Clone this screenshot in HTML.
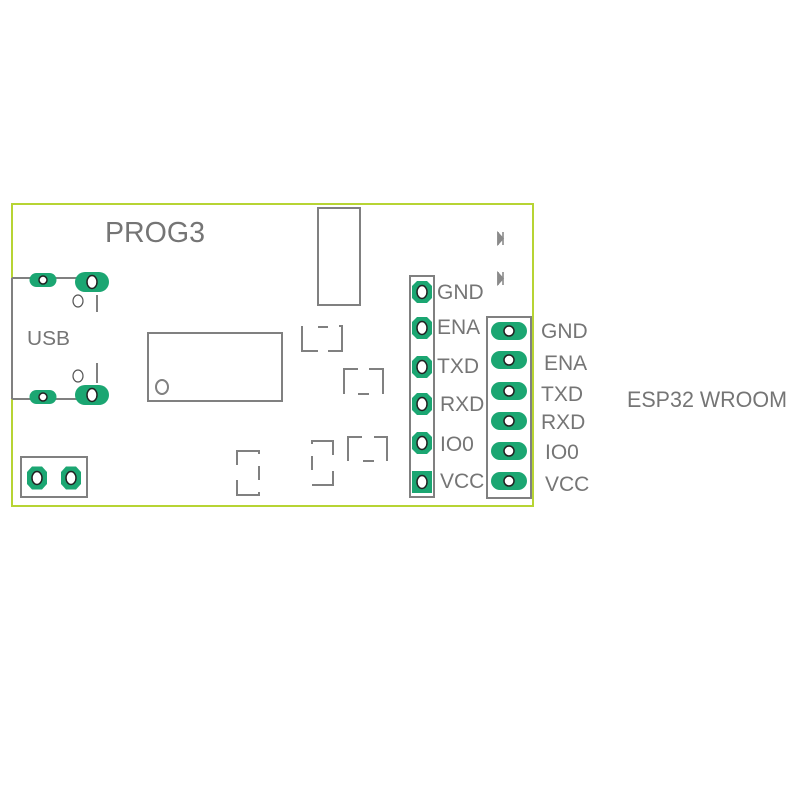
<!DOCTYPE html>
<html>
<head>
<meta charset="utf-8">
<style>
html,body{margin:0;padding:0;background:#fff;}
svg{display:block;}
text{font-family:"Liberation Sans",Arial,sans-serif;fill:#757575;}
</style>
</head>
<body>
<svg width="794" height="794" viewBox="0 0 794 794" xmlns="http://www.w3.org/2000/svg">
<rect x="0" y="0" width="794" height="794" fill="#fff"/>
<!-- board outline -->
<rect x="12" y="204" width="521" height="302" fill="none" stroke="#b7d434" stroke-width="2"/>

<g fill="none" stroke="#808080" stroke-width="2">
  <!-- USB outline -->
  <line x1="12" y1="278" x2="100" y2="278"/>
  <line x1="12" y1="399" x2="100" y2="399"/>
  <line x1="12" y1="278" x2="12" y2="399"/>
  <line x1="97" y1="295" x2="97" y2="312"/>
  <line x1="97" y1="363" x2="97" y2="383"/>
  <!-- bottom-left connector -->
  <rect x="21" y="457" width="66" height="40"/>
  <!-- IC -->
  <rect x="148" y="333" width="134" height="68"/>
  <!-- tall rect -->
  <rect x="318" y="208" width="42" height="97"/>
  <!-- left header -->
  <rect x="410" y="276" width="24" height="221"/>
  <!-- right header -->
  <rect x="487" y="317" width="44" height="181"/>

  <!-- shape 1 -->
  <polyline points="302,326 302,351 318,351"/>
  <line x1="318" y1="327" x2="328" y2="327"/>
  <polyline points="339,326 342,326 342,351 328,351"/>
  <!-- shape 2 -->
  <polyline points="358,369 344,369 344,394"/>
  <line x1="358" y1="394" x2="369" y2="394"/>
  <polyline points="369,369 383,369 383,394"/>
  <!-- shape 3 -->
  <polyline points="362,437 348,437 348,461"/>
  <line x1="363" y1="461" x2="374" y2="461"/>
  <polyline points="374,437 387,437 387,461"/>
  <!-- shape 4 -->
  <polyline points="312,444 312,441 333,441 333,455"/>
  <line x1="312" y1="456" x2="312" y2="470"/>
  <polyline points="333,471 333,485 312,485"/>
  <!-- shape 5 -->
  <polyline points="237,465 237,451 259,451 259,454"/>
  <line x1="259" y1="466" x2="259" y2="480"/>
  <polyline points="237,480 237,495 259,495 259,492"/>
</g>

<!-- IC dot -->
<ellipse cx="162" cy="387" rx="6" ry="7" fill="none" stroke="#808080" stroke-width="2"/>
<!-- USB small circles -->
<ellipse cx="78" cy="301" rx="5" ry="6" fill="none" stroke="#555" stroke-width="1.2"/>
<ellipse cx="78" cy="376" rx="5" ry="6" fill="none" stroke="#555" stroke-width="1.2"/>

<!-- diodes -->
<g fill="none" stroke="#8a8a8a" stroke-width="1.6">
  <line x1="498" y1="232" x2="498" y2="245"/>
  <polygon points="498,233 503,238.5 498,244" fill="#8a8a8a"/>
  <line x1="503" y1="232" x2="503" y2="245"/>
  <line x1="498" y1="272" x2="498" y2="285"/>
  <polygon points="498,273 503,278.5 498,284" fill="#8a8a8a"/>
  <line x1="503" y1="272" x2="503" y2="285"/>
</g>

<!-- USB pads -->
<g fill="#1ba672">
  <rect x="29.5" y="273" width="27" height="14" rx="7"/>
  <rect x="75" y="272" width="34" height="20" rx="10"/>
  <rect x="29.5" y="390" width="27" height="14" rx="7"/>
  <rect x="75" y="385" width="34" height="20" rx="10"/>
</g>
<g fill="#fff" stroke="#222" stroke-width="1.5">
  <circle cx="43" cy="280" r="4"/>
  <ellipse cx="92" cy="282" rx="5" ry="6.5"/>
  <circle cx="43" cy="397" r="4"/>
  <ellipse cx="92" cy="395" rx="5" ry="6.5"/>
</g>

<!-- bottom-left connector pads -->
<g fill="#1ba672">
  <polygon points="32,466.5 42,466.5 47,472 47,484 42,489.5 32,489.5 27,484 27,472"/>
  <polygon points="66,466.5 76,466.5 81,472 81,484 76,489.5 66,489.5 61,484 61,472"/>
</g>
<g fill="#fff" stroke="#222" stroke-width="1.5">
  <ellipse cx="37" cy="478" rx="5" ry="6.5"/>
  <ellipse cx="71" cy="478" rx="5" ry="6.5"/>
</g>

<!-- left header pads -->
<g fill="#1ba672">
  <polygon points="417,281 427,281 432,286 432,298 427,303 417,303 412,298 412,286"/>
  <polygon points="417,317 427,317 432,322 432,334 427,339 417,339 412,334 412,322"/>
  <polygon points="417,356 427,356 432,361 432,373 427,378 417,378 412,373 412,361"/>
  <polygon points="417,393 427,393 432,398 432,410 427,415 417,415 412,410 412,398"/>
  <polygon points="417,432 427,432 432,437 432,449 427,454 417,454 412,449 412,437"/>
  <rect x="412" y="471" width="20" height="22"/>
</g>
<g fill="#fff" stroke="#222" stroke-width="1.5">
  <ellipse cx="422" cy="292" rx="5" ry="6.5"/>
  <ellipse cx="422" cy="328" rx="5" ry="6.5"/>
  <ellipse cx="422" cy="367" rx="5" ry="6.5"/>
  <ellipse cx="422" cy="404" rx="5" ry="6.5"/>
  <ellipse cx="422" cy="443" rx="5" ry="6.5"/>
  <ellipse cx="422" cy="482" rx="5" ry="6.5"/>
</g>

<!-- right header pads -->
<g fill="#1ba672">
  <rect x="491" y="322" width="36" height="18" rx="9"/>
  <rect x="491" y="351" width="36" height="18" rx="9"/>
  <rect x="491" y="382" width="36" height="18" rx="9"/>
  <rect x="491" y="412" width="36" height="18" rx="9"/>
  <rect x="491" y="442" width="36" height="18" rx="9"/>
  <rect x="491" y="472" width="36" height="18" rx="9"/>
</g>
<g fill="#fff" stroke="#222" stroke-width="1.5">
  <circle cx="509" cy="331" r="5"/>
  <circle cx="509" cy="360" r="5"/>
  <circle cx="509" cy="391" r="5"/>
  <circle cx="509" cy="421" r="5"/>
  <circle cx="509" cy="451" r="5"/>
  <circle cx="509" cy="481" r="5"/>
</g>

<!-- text -->
<text x="105" y="242" font-size="29" textLength="100" lengthAdjust="spacingAndGlyphs">PROG3</text>
<text x="27" y="345" font-size="20" textLength="43" lengthAdjust="spacingAndGlyphs">USB</text>

<g font-size="21">
  <text x="437" y="299">GND</text>
  <text x="437" y="334">ENA</text>
  <text x="437" y="373">TXD</text>
  <text x="440" y="411">RXD</text>
  <text x="440" y="451">IO0</text>
  <text x="440" y="488">VCC</text>

  <text x="541" y="338">GND</text>
  <text x="544" y="370">ENA</text>
  <text x="541" y="401">TXD</text>
  <text x="541" y="429">RXD</text>
  <text x="545" y="459">IO0</text>
  <text x="545" y="491">VCC</text>
</g>
<text x="627" y="407" font-size="22" textLength="160" lengthAdjust="spacingAndGlyphs">ESP32 WROOM</text>
</svg>
</body>
</html>
